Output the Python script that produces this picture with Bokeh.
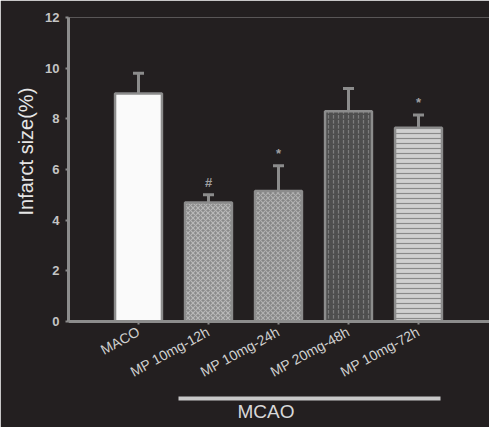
from bokeh.plotting import figure
from bokeh.models import Range1d, FixedTicker, Whisker, TeeHead, ColumnDataSource, LinearAxis, Title
from bokeh.core.properties import value
from bokeh.embed import file_html
from bokeh.resources import INLINE

# ---- data ----
groups = ["MACO", "MP 10mg-12h", "MP 10mg-24h", "MP 20mg-48h", "MP 10mg-72h"]
infarct = [9.0, 4.7, 5.15, 8.3, 7.65]
sem = [0.8, 0.3, 1.0, 0.9, 0.5]
marks = ["", "#", "*", "", "*"]
yticks = [0, 2, 4, 6, 8, 10, 12]
y_title = "Infarct size(%)"
group_label = "MCAO"
group_span = (0.57, 4.31)

BG = "#231f20"
AX = "#8c8c8c"

xs = list(range(len(groups)))
src = ColumnDataSource(dict(
    x=xs,
    top=infarct,
    upper=[v + e for v, e in zip(infarct, sem)],
    marks=marks,
    fill=["#fafafa", "#8a8a8a", "#858585", "#4e4e4e", "#d0d0d0"],
    hatch=[" ", "x", "x", ":", "-"],
    hcol=["#fafafa", "#b8b8b8", "#b0b0b0", "#7c7c7c", "#8a8a8a"],
))

W, H = 489, 427
p = figure(width=W, height=H,
           x_range=Range1d(-1, -1 + (W - 68) / 70), y_range=Range1d(0, 12),
           output_backend="svg", toolbar_location=None,
           min_border_left=68, min_border_top=17, min_border_bottom=H - 321, min_border_right=0,
           background_fill_color=BG, border_fill_color=BG, outline_line_color=None)
p.grid.visible = False

p.vbar(x="x", top="top", bottom=0, width=0.67, source=src,
       fill_color="fill", hatch_pattern="hatch", hatch_color="hcol", hatch_scale=5,
       hatch_weight=1.2, line_color=AX, line_width=2.5)

w = Whisker(source=src, base="x", lower="top", upper="upper",
            upper_head=TeeHead(size=11, line_color=AX, line_width=3), lower_head=None,
            line_color=AX, line_width=3)
p.add_layout(w)

p.text(x="x", y="upper", text="marks", source=src, y_offset=-5,
       text_align="center", text_baseline="bottom", text_color="#a0a0a0",
       text_font=value("Liberation Sans"), text_font_size="13px", text_font_style="bold")

# y axis
ya = p.yaxis[0]
ya.ticker = FixedTicker(ticks=yticks)
ya.axis_line_color = AX
ya.axis_line_width = 3
ya.major_tick_line_color = AX
ya.major_tick_line_width = 2
ya.major_tick_out = 3
ya.major_tick_in = 0
ya.minor_tick_line_color = None
ya.major_label_standoff = 6
ya.major_label_text_color = "#c4c4c4"
ya.major_label_text_font = "Liberation Sans"
ya.major_label_text_font_size = "13px"
ya.major_label_text_font_style = "bold"
p.add_layout(Title(text=y_title, align="left", offset=106, standoff=12,
                   text_font="Liberation Sans", text_font_size="20px",
                   text_font_style="normal", text_color="#e6e6e6"), "left")

# x axis
xa = p.xaxis[0]
xa.ticker = FixedTicker(ticks=xs)
xa.major_label_overrides = {i: g for i, g in zip(xs, groups)}
xa.major_label_orientation = 0.5
xa.axis_line_color = AX
xa.axis_line_width = 3
xa.major_tick_line_color = AX
xa.major_tick_line_width = 2
xa.major_tick_out = 3
xa.major_tick_in = 0
xa.minor_tick_line_color = None
xa.major_label_standoff = 6
xa.major_label_text_color = "#cfcfcf"
xa.major_label_text_font = "Liberation Sans"
xa.major_label_text_font_size = "14px"
xa.axis_label = "\u00a0"
xa.axis_label_text_font_size = "6px"
xa.axis_label_standoff = 0

# group bracket line (an axis restricted to the MP bars) and its label
ga = LinearAxis(ticker=FixedTicker(ticks=[]), bounds=group_span,
                axis_line_color="#c8c8c8", axis_line_width=4,
                major_tick_line_color=None, minor_tick_line_color=None,
                major_label_text_font_size="0px")
p.add_layout(ga, "below")
p.add_layout(Title(text=group_label, align="left", offset=169, standoff=1,
                   text_font="Liberation Sans", text_font_size="19px",
                   text_font_style="normal", text_color="#d8d8d8"), "below")

open("out.html", "w").write(file_html(p, INLINE))
